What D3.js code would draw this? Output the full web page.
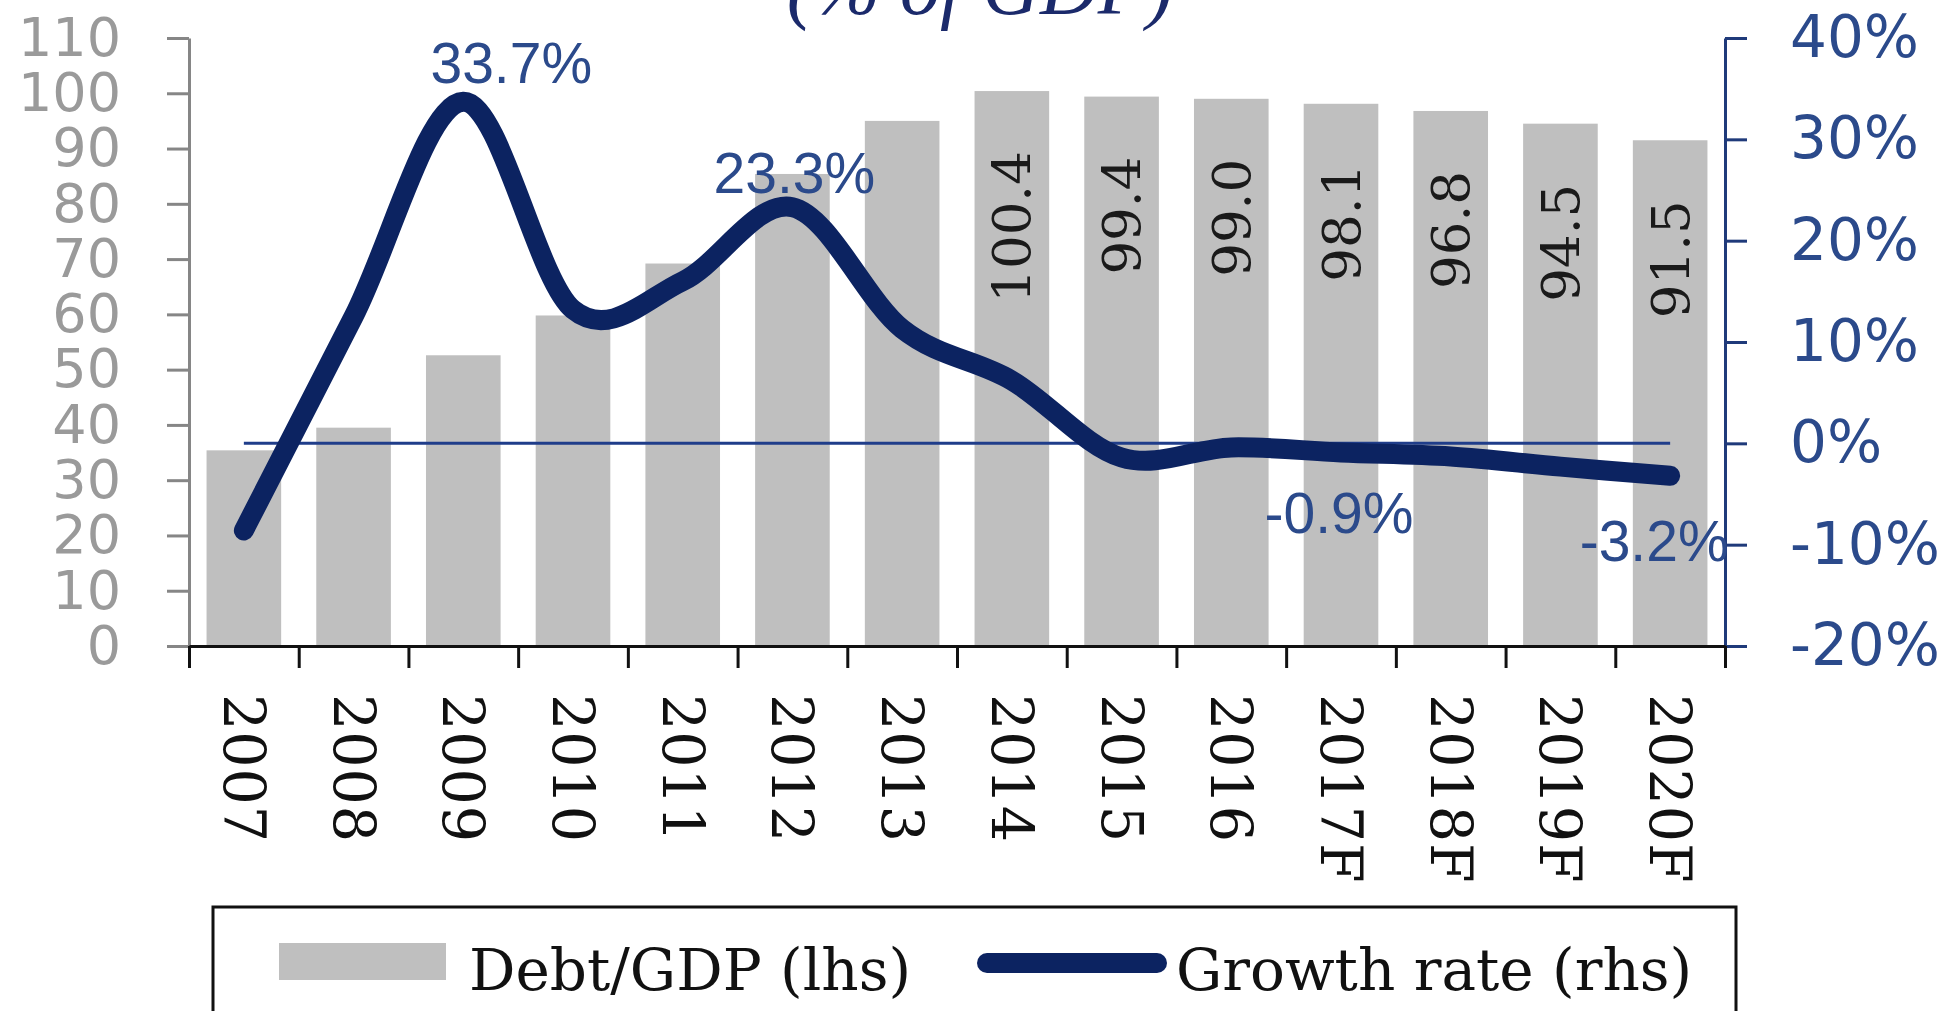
<!DOCTYPE html>
<html>
<head>
<meta charset="utf-8">
<script src="https://cdn.jsdelivr.net/npm/d3@7"></script>
<style>
  html, body { margin: 0; padding: 0; background: #fff; }
  svg { display: block; }
</style>
</head>
<body>
<svg id="chart" width="1953" height="1011"></svg>
<script>
// Categories and series
const years = ['2007', '2008', '2009', '2010', '2011', '2012', '2013',
               '2014', '2015', '2016', '2017F', '2018F', '2019F', '2020F'];
const debt = [35.4, 39.5, 52.6, 59.8, 69.2, 85.4, 95.0,
              100.4, 99.4, 99.0, 98.1, 96.8, 94.5, 91.5];
const growth = [-8.6, 12.5, 33.7, 13.2, 16.0, 23.3, 11.3,
                6.2, -1.4, -0.4, -0.9, -1.3, -2.3, -3.2];

const leftTicks = [0, 10, 20, 30, 40, 50, 60, 70, 80, 90, 100, 110];
const rightTicks = [-20, -10, 0, 10, 20, 30, 40];

// which bars / points get a data label
const debtLabelYears = ['2014', '2015', '2016', '2017F', '2018F', '2019F', '2020F'];
const growthLabelYears = ['2009', '2012', '2017F', '2020F'];

const legendItems = ['Debt/GDP (lhs)', 'Growth rate (rhs)'];
const title = '(% of GDP)';

const svg = d3.select('#chart');
const plot = { left: 189, right: 1725, top: 38, bottom: 646 };

const x = d3.scaleBand()
    .domain(years)
    .range([plot.left, plot.right])
    .paddingInner(0.32)
    .paddingOuter(0.16);

const yL = d3.scaleLinear().domain([0, 110]).range([plot.bottom, plot.top]);
const yR = d3.scaleLinear().domain([-20, 40]).range([plot.bottom, plot.top]);
const cx = d => x(d) + x.bandwidth() / 2;

const serif = '"DejaVu Serif", serif';
const navy = '#0c2361';

// title (cut off at the top edge)
svg.append('text')
    .attr('x', 980)
    .attr('y', 14)
    .attr('text-anchor', 'middle')
    .attr('font-family', '"Liberation Serif", serif')
    .attr('font-style', 'italic')
    .attr('font-size', 80)
    .attr('fill', '#1b2a6b')
    .text(title);

// bars
svg.selectAll('.bar')
    .data(debt)
    .enter()
    .append('rect')
    .attr('class', 'bar')
    .attr('x', (d, i) => x(years[i]))
    .attr('y', d => yL(d))
    .attr('width', x.bandwidth())
    .attr('height', d => yL(0) - yL(d))
    .attr('fill', '#bfbfbf');

// bar value labels (rotated, inside the top of the bar)
svg.selectAll('.bar-label')
    .data(years.map((y, i) => ({ y, v: debt[i] })).filter(d => debtLabelYears.includes(d.y)))
    .enter()
    .append('text')
    .attr('class', 'bar-label')
    .attr('transform', d => `translate(${cx(d.y)},${yL(d.v) + 60}) rotate(-90)`)
    .attr('text-anchor', 'end')
    .attr('dominant-baseline', 'central')
    .attr('font-family', serif)
    .attr('font-size', 53)
    .attr('fill', '#1a1a1a')
    .text(d => d.v.toFixed(1));

// left axis
const gL = svg.append('g')
    .attr('transform', `translate(${plot.left},0)`)
    .call(d3.axisLeft(yL).tickValues(leftTicks).tickSize(22).tickPadding(46).tickSizeOuter(0));
gL.selectAll('path, line').attr('stroke', '#868686').attr('stroke-width', 3);
gL.selectAll('text')
    .attr('font-family', '"DejaVu Sans", sans-serif')
    .attr('font-size', 54)
    .attr('fill', '#9a9a9a');

// right axis
const gR = svg.append('g')
    .attr('transform', `translate(${plot.right},0)`)
    .call(d3.axisRight(yR).tickValues(rightTicks).tickFormat(d => d + '%')
        .tickSize(22).tickPadding(43).tickSizeOuter(0));
gR.selectAll('path, line').attr('stroke', '#1f3a7a').attr('stroke-width', 3);
gR.selectAll('text')
    .attr('font-family', '"DejaVu Sans", sans-serif')
    .attr('font-size', 58)
    .attr('fill', '#2b4a8b');

// bottom axis: ticks between the categories
const xEdge = d3.scaleLinear().domain([0, years.length]).range([plot.left, plot.right]);
const gB = svg.append('g')
    .attr('transform', `translate(0,${plot.bottom})`)
    .call(d3.axisBottom(xEdge).tickValues(d3.range(0, years.length + 1))
        .tickFormat('').tickSize(22).tickSizeOuter(0));
gB.selectAll('path, line').attr('stroke', '#111').attr('stroke-width', 3);

// category labels, rotated
svg.selectAll('.year')
    .data(years)
    .enter()
    .append('text')
    .attr('class', 'year')
    .attr('transform', d => `translate(${cx(d)},${plot.bottom + 48}) rotate(90)`)
    .attr('dominant-baseline', 'central')
    .attr('font-family', serif)
    .attr('font-size', 57)
    .attr('letter-spacing', 1)
    .attr('fill', '#111')
    .text(d => d);

// zero line of the right axis
svg.append('line')
    .attr('x1', cx(years[0]))
    .attr('x2', cx(years[years.length - 1]))
    .attr('y1', yR(0))
    .attr('y2', yR(0))
    .attr('stroke', '#1f3d8a')
    .attr('stroke-width', 3);

// growth line
const line = d3.line()
    .x((d, i) => cx(years[i]))
    .y(d => yR(d))
    .curve(d3.curveCatmullRom.alpha(0));

svg.append('path')
    .datum(growth)
    .attr('d', line)
    .attr('fill', 'none')
    .attr('stroke', navy)
    .attr('stroke-width', 20)
    .attr('stroke-linecap', 'round')
    .attr('stroke-linejoin', 'round');

// growth labels
const labelShift = { '2009': [48, -19], '2012': [2, -14], '2017F': [-2, 81], '2020F': [-16, 85] };
svg.selectAll('.g-label')
    .data(years.map((y, i) => ({ y, v: growth[i] })).filter(d => growthLabelYears.includes(d.y)))
    .enter()
    .append('text')
    .attr('class', 'g-label')
    .attr('x', d => cx(d.y) + labelShift[d.y][0])
    .attr('y', d => yR(d.v) + labelShift[d.y][1])
    .attr('text-anchor', 'middle')
    .attr('font-family', '"Liberation Sans", sans-serif')
    .attr('font-size', 57)
    .attr('fill', '#2b4a8b')
    .text(d => d.v.toFixed(1) + '%');

// legend
const lg = svg.append('g');
lg.append('rect')
    .attr('x', 213).attr('y', 907)
    .attr('width', 1523).attr('height', 200)
    .attr('fill', '#fff')
    .attr('stroke', '#111')
    .attr('stroke-width', 3);
lg.append('rect')
    .attr('x', 279).attr('y', 943)
    .attr('width', 167).attr('height', 37)
    .attr('fill', '#bfbfbf');
lg.append('line')
    .attr('x1', 987).attr('x2', 1157)
    .attr('y1', 963).attr('y2', 963)
    .attr('stroke', navy)
    .attr('stroke-width', 20)
    .attr('stroke-linecap', 'round');
lg.selectAll('.lg-text')
    .data(legendItems)
    .enter()
    .append('text')
    .attr('class', 'lg-text')
    .attr('x', (d, i) => i === 0 ? 469 : 1176)
    .attr('y', 990)
    .attr('font-family', serif)
    .attr('font-size', 58)
    .attr('fill', '#111')
    .text(d => d);
</script>
</body>
</html>
